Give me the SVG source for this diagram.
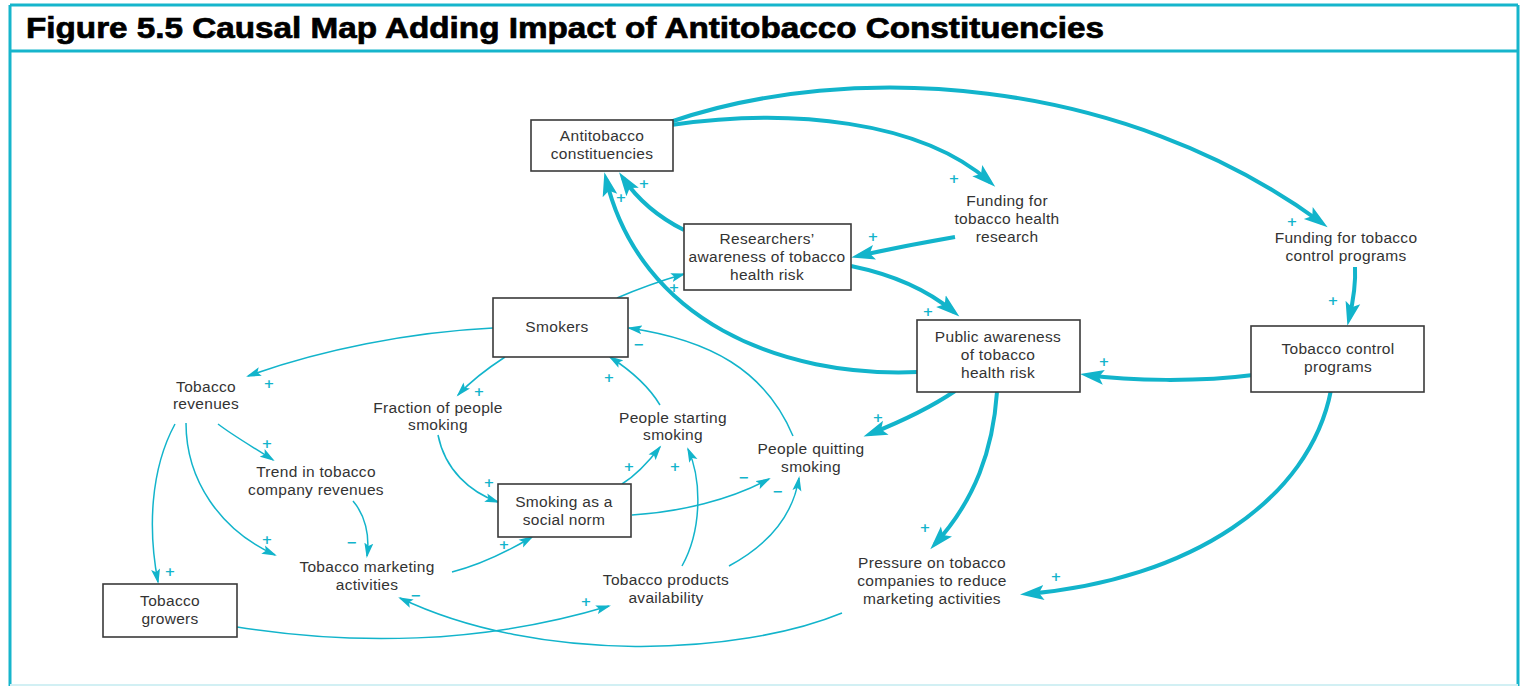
<svg xmlns="http://www.w3.org/2000/svg" width="1526" height="686" viewBox="0 0 1526 686">
<defs>
<style>
.frame{stroke:#16b5cc;stroke-width:3;fill:none}
.box{fill:#fff;stroke:#3a3a3a;stroke-width:1.6}
.lbl{font-family:"Liberation Sans",Arial,sans-serif;font-size:15.5px;letter-spacing:0.3px;fill:#333;text-anchor:middle}
.thick{fill:none;stroke:#12b4cb;stroke-width:4}
.thin{fill:none;stroke:#12b4cb;stroke-width:1.5}
.sg{font-family:"DejaVu Sans",sans-serif;font-size:13px;font-weight:bold;fill:#12b4cb;text-anchor:middle}
</style>
<marker id="ah" markerUnits="userSpaceOnUse" markerWidth="26" markerHeight="18" viewBox="0 0 26 18" refX="17" refY="9" orient="auto">
<path d="M0,1.5 L24,9 L0,16.5 L5,9 z" fill="#12b4cb"/>
</marker>
<marker id="as" markerUnits="userSpaceOnUse" markerWidth="16" markerHeight="10" viewBox="0 0 16 10" refX="13" refY="5" orient="auto">
<path d="M0,0.5 L15,5 L0,9.5 L3,5 z" fill="#12b4cb"/>
</marker>
</defs>
<rect width="1526" height="686" fill="#fff"/>
<g id="frame">
<line x1="10" y1="5" x2="1518" y2="5" class="frame"/>
<line x1="10" y1="5" x2="10" y2="686" class="frame"/>
<line x1="1518" y1="5" x2="1518" y2="686" class="frame"/>
<line x1="10" y1="51" x2="1518" y2="51" class="frame"/>
<line x1="10" y1="685" x2="1518" y2="685" stroke="#d2f0f4" stroke-width="2"/>
<text x="26" y="38" font-family="Liberation Sans,Arial,sans-serif" font-size="29" font-weight="bold" fill="#000" stroke="#000" stroke-width="0.7" textLength="1078" lengthAdjust="spacingAndGlyphs">Figure 5.5 Causal Map Adding Impact of Antitobacco Constituencies</text>
</g>
<g id="connectors">
<path class="thick" marker-end="url(#ah)" d="M670 122 C850 60,1120 75,1322 223"/>
<path class="thick" marker-end="url(#ah)" d="M671 125 C790 108,920 120,990 182"/>
<path class="thick" marker-end="url(#ah)" d="M684 230 C660 218,638 200,623 178"/>
<path class="thick" marker-end="url(#ah)" d="M918 372 C780 378,640 320,606 179"/>
<path class="thick" marker-end="url(#ah)" d="M955 237 C920 243,885 250,858 256"/>
<path class="thick" marker-end="url(#ah)" d="M851 266 C895 275,930 292,954 312"/>
<path class="thick" marker-end="url(#ah)" d="M1355 267 C1356 285,1353 302,1349 319"/>
<path class="thick" marker-end="url(#ah)" d="M1253 375 C1200 382,1130 381,1087 375"/>
<path class="thick" marker-end="url(#ah)" d="M955 391 C930 408,900 422,870 434"/>
<path class="thick" marker-end="url(#ah)" d="M997 392 C993 450,975 500,935 544"/>
<path class="thick" marker-end="url(#ah)" d="M1331 390 C1310 500,1190 580,1027 594"/>
<path class="thin" marker-end="url(#as)" d="M617 298 C640 288,660 281,684 274"/>
<path class="thin" marker-end="url(#as)" d="M493 328 C410 332,320 350,248 376"/>
<path class="thin" marker-end="url(#as)" d="M505 357 C485 370,470 382,458 395"/>
<path class="thin" marker-end="url(#as)" d="M660 405 C648 385,630 370,610 357"/>
<path class="thin" marker-end="url(#as)" d="M793 436 C765 370,710 340,629 328"/>
<path class="thin" marker-end="url(#as)" d="M622 484 C638 474,650 460,660 447"/>
<path class="thin" marker-end="url(#as)" d="M632 515 C680 512,730 500,769 479"/>
<path class="thin" marker-end="url(#as)" d="M682 566 C702 530,702 480,688 449"/>
<path class="thin" marker-end="url(#as)" d="M729 566 C768 545,793 515,799 478"/>
<path class="thin" marker-end="url(#as)" d="M438 435 C445 470,470 492,498 502"/>
<path class="thin" marker-end="url(#as)" d="M218 424 C235 437,255 448,273 460"/>
<path class="thin" marker-end="url(#as)" d="M186 423 C186 480,220 530,275 555"/>
<path class="thin" marker-end="url(#as)" d="M175 424 C150 470,148 530,158 582"/>
<path class="thin" marker-end="url(#as)" d="M353 501 C365 515,370 535,367 556"/>
<path class="thin" marker-end="url(#as)" d="M452 572 C480 565,505 553,532 537"/>
<path class="thin" marker-end="url(#as)" d="M237 627 C350 645,480 645,609 606"/>
<path class="thin" marker-end="url(#as)" d="M842 613 C740 655,540 665,400 598"/>
<g id="signs">
<text class="sg" x="954" y="183">+</text>
<text class="sg" x="644" y="188">+</text>
<text class="sg" x="621" y="202">+</text>
<text class="sg" x="873" y="241">+</text>
<text class="sg" x="1292" y="226">+</text>
<text class="sg" x="1333" y="305">+</text>
<text class="sg" x="928" y="316">+</text>
<text class="sg" x="1104" y="366">+</text>
<text class="sg" x="674" y="292">+</text>
<text class="sg" x="639" y="349">−</text>
<text class="sg" x="609" y="382">+</text>
<text class="sg" x="269" y="388">+</text>
<text class="sg" x="479" y="396">+</text>
<text class="sg" x="267" y="448">+</text>
<text class="sg" x="878" y="422">+</text>
<text class="sg" x="629" y="471">+</text>
<text class="sg" x="675" y="471">+</text>
<text class="sg" x="744" y="482">−</text>
<text class="sg" x="778" y="496">−</text>
<text class="sg" x="489" y="487">+</text>
<text class="sg" x="267" y="544">+</text>
<text class="sg" x="352" y="547">−</text>
<text class="sg" x="504" y="549">+</text>
<text class="sg" x="170" y="576">+</text>
<text class="sg" x="416" y="600">−</text>
<text class="sg" x="586" y="606">+</text>
<text class="sg" x="925" y="532">+</text>
<text class="sg" x="1056" y="581">+</text>
</g>
</g>
<g id="antitobacco"><rect class="box" x="531" y="120" width="142" height="51"/><text class="lbl" x="602" y="141">Antitobacco</text><text class="lbl" x="602" y="159">constituencies</text></g>
<g id="researchers"><rect class="box" x="684" y="224" width="167" height="66"/><text class="lbl" x="767" y="244">Researchers’</text><text class="lbl" x="767" y="262">awareness of tobacco</text><text class="lbl" x="767" y="280">health risk</text></g>
<g id="smokers"><rect class="box" x="493" y="298" width="135" height="59"/><text class="lbl" x="557" y="332">Smokers</text></g>
<g id="public"><rect class="box" x="917" y="320" width="163" height="72"/><text class="lbl" x="998" y="342">Public awareness</text><text class="lbl" x="998" y="360">of tobacco</text><text class="lbl" x="998" y="378">health risk</text></g>
<g id="control"><rect class="box" x="1251" y="326" width="173" height="66"/><text class="lbl" x="1338" y="354">Tobacco control</text><text class="lbl" x="1338" y="372">programs</text></g>
<g id="norm"><rect class="box" x="498" y="484" width="133" height="53"/><text class="lbl" x="564" y="507">Smoking as a</text><text class="lbl" x="564" y="525">social norm</text></g>
<g id="growers"><rect class="box" x="103" y="584" width="134" height="53"/><text class="lbl" x="170" y="606">Tobacco</text><text class="lbl" x="170" y="624">growers</text></g>
<g id="fund-research"><text class="lbl" x="1007" y="206">Funding for</text><text class="lbl" x="1007" y="224">tobacco health</text><text class="lbl" x="1007" y="242">research</text></g>
<g id="fund-control"><text class="lbl" x="1346" y="243">Funding for tobacco</text><text class="lbl" x="1346" y="261">control programs</text></g>
<g id="revenues"><text class="lbl" x="206" y="392">Tobacco</text><text class="lbl" x="206" y="409">revenues</text></g>
<g id="fraction"><text class="lbl" x="438" y="413">Fraction of people</text><text class="lbl" x="438" y="430">smoking</text></g>
<g id="starting"><text class="lbl" x="673" y="423">People starting</text><text class="lbl" x="673" y="440">smoking</text></g>
<g id="quitting"><text class="lbl" x="811" y="454">People quitting</text><text class="lbl" x="811" y="472">smoking</text></g>
<g id="trend"><text class="lbl" x="316" y="477">Trend in tobacco</text><text class="lbl" x="316" y="495">company revenues</text></g>
<g id="marketing"><text class="lbl" x="367" y="572">Tobacco marketing</text><text class="lbl" x="367" y="590">activities</text></g>
<g id="availability"><text class="lbl" x="666" y="585">Tobacco products</text><text class="lbl" x="666" y="603">availability</text></g>
<g id="pressure"><text class="lbl" x="932" y="568">Pressure on tobacco</text><text class="lbl" x="932" y="586">companies to reduce</text><text class="lbl" x="932" y="604">marketing activities</text></g>
</svg>
